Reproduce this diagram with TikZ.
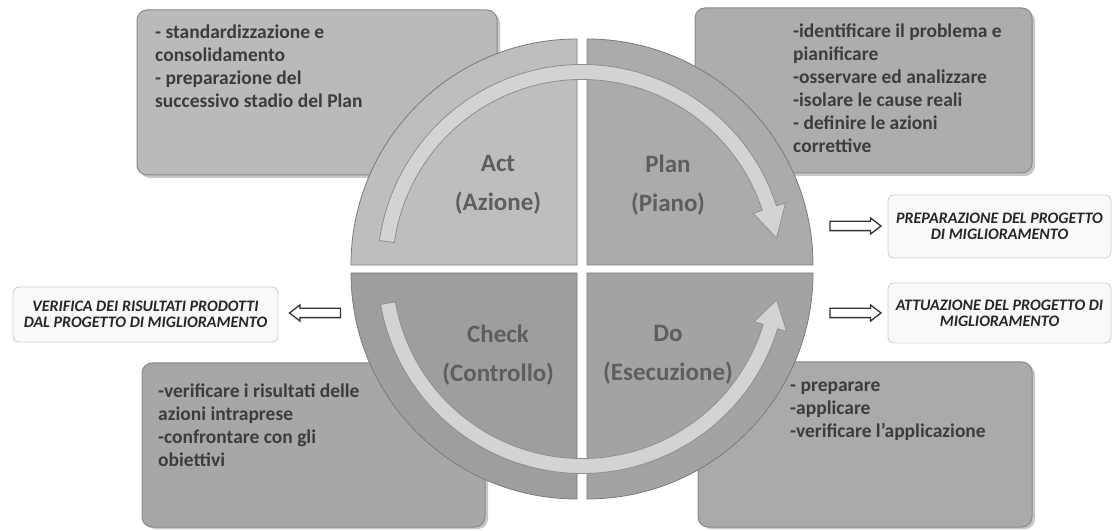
\documentclass[tikz,border=0pt]{standalone}
\usepackage{fontspec}
\setmainfont{Carlito}
\usetikzlibrary{shapes.arrows}
\definecolor{actc}{HTML}{BEBEBE}
\definecolor{planc}{HTML}{ABABAB}
\definecolor{checkc}{HTML}{9E9E9E}
\definecolor{doc}{HTML}{A3A3A3}
\definecolor{qline}{HTML}{7A7A7A}
\definecolor{tlbox}{HTML}{BABABA}
\definecolor{trbox}{HTML}{ADADAD}
\definecolor{blbox}{HTML}{A7A7A7}
\definecolor{brbox}{HTML}{AAAAAA}
\definecolor{boxline}{HTML}{8A8A8A}
\definecolor{textdark}{HTML}{3C3C3C}
\definecolor{labelgray}{HTML}{5E5E5E}
\definecolor{arcfill}{HTML}{D3D3D3}
\definecolor{arcline}{HTML}{8E8E8E}
\definecolor{sidefill}{HTML}{F9F9F9}
\definecolor{sideline}{HTML}{D2D2D2}
\begin{document}
\begin{tikzpicture}[x=1pt,y=1pt,
  cornerbox/.style={draw=boxline, line width=1pt, rounded corners=10pt},
  boxshadow/.style={fill=black!22, rounded corners=10pt},
  cornertext/.style={anchor=north west, inner sep=0pt, align=left,
    font=\fontsize{19.5}{23}\selectfont\bfseries, text=textdark},
  quad/.style={draw=qline, line width=0.8pt},
  quadlabel/.style={align=center, inner sep=0pt,
    font=\fontsize{25}{39}\selectfont\bfseries, text=labelgray},
  cyclearrow/.style={fill=arcfill, draw=arcline, line width=0.8pt},
  sidebox/.style={draw=sideline, fill=sidefill, line width=0.9pt, rounded corners=6pt,
    align=center, inner sep=0pt, font=\fontsize{16}{16}\selectfont\bfseries\itshape,
    text=black!85},
  hollow/.style={single arrow, draw=black!80, fill=white, line width=1.3pt,
    minimum height=51pt, minimum width=15pt, inner xsep=0pt, inner ysep=4pt,
    single arrow head extend=3.5pt, single arrow tip angle=75}
]
\useasboundingbox (0,0) rectangle (1113,530);

% corner boxes
\fill[boxshadow] (140,352) rectangle (500,517);
\draw[cornerbox, fill=tlbox] (137,355) rectangle (497,520);
\fill[boxshadow] (698,354) rectangle (1035,519);
\draw[cornerbox, fill=trbox] (695,357) rectangle (1032,522);
\fill[boxshadow] (145,1) rectangle (488,164);
\draw[cornerbox, fill=blbox] (142,3) rectangle (485,167);
\fill[boxshadow] (701,1) rectangle (1035,165);
\draw[cornerbox, fill=brbox] (698,3) rectangle (1032,168);

\node[cornertext] (tltext) at (155,505) {- standardizzazione e\\consolidamento\\- preparazione del\\successivo stadio del Plan};
\node[cornertext] (trtext) at (793,506) {-identificare il problema e\\pianificare\\-osservare ed analizzare\\-isolare le cause reali\\- definire le azioni\\correttive};
\node[cornertext] (bltext) at (158,146) {-verificare i risultati delle\\azioni intraprese\\-confrontare con gli\\obiettivi};
\node[cornertext] (brtext) at (790,148) {- preparare\\-applicare\\-verificare l'applicazione};

% cycle quadrants
\begin{scope}[shift={(582,261)}]
  \filldraw[quad, fill=actc]   (-5,4) -- ++(-226,0) arc[start angle=180, end angle=90, radius=226] -- cycle;
  \filldraw[quad, fill=planc]  (5,4) -- ++(0,226) arc[start angle=90, end angle=0, radius=226] -- cycle;
  \filldraw[quad, fill=checkc] (-5,-4) -- ++(-226,0) arc[start angle=180, end angle=270, radius=226] -- cycle;
  \filldraw[quad, fill=doc]    (5,-4) -- ++(0,-226) arc[start angle=270, end angle=360, radius=226] -- cycle;
  % circular arrows
  \filldraw[cyclearrow] (172:189.5) arc[start angle=172, end angle=18, radius=189.5]
     -- (18:180) -- (9:197) -- (18:214) -- (18:204.5)
     arc[start angle=18, end angle=172, radius=204.5] -- cycle;
  \filldraw[cyclearrow] (190:189.5) arc[start angle=190, end angle=343, radius=189.5]
     -- (343:180) -- (351:197) -- (343:214) -- (343:204.5)
     arc[start angle=343, end angle=190, radius=204.5] -- cycle;
\end{scope}

\node[quadlabel] (act)   at (498,345.3) {Act\\(Azione)};
\node[quadlabel] (plan)  at (668,345.3) {Plan\\(Piano)};
\node[quadlabel] (check) at (498,175.3) {Check\\(Controllo)};
\node[quadlabel] (do)    at (668,175.3) {Do\\(Esecuzione)};

% side labels
\node[sidebox, minimum width=265pt, minimum height=55pt] (verifica) at (145.5,215.5)
  {VERIFICA DEI RISULTATI PRODOTTI\\DAL PROGETTO DI MIGLIORAMENTO};
\node[sidebox, minimum width=223pt, minimum height=63pt] (prep) at (999.5,303.5)
  {PREPARAZIONE DEL PROGETTO\\DI MIGLIORAMENTO};
\node[sidebox, minimum width=223pt, minimum height=60pt] (attu) at (999.5,217)
  {ATTUAZIONE DEL PROGETTO DI\\MIGLIORAMENTO};

% hollow block arrows
\node[hollow] (arrprep) at (852.5,304) {};
\node[hollow] (arrattu) at (852.5,217) {};
\node[hollow, shape border rotate=180] (arrver) at (318,217) {};
\end{tikzpicture}
\end{document}
